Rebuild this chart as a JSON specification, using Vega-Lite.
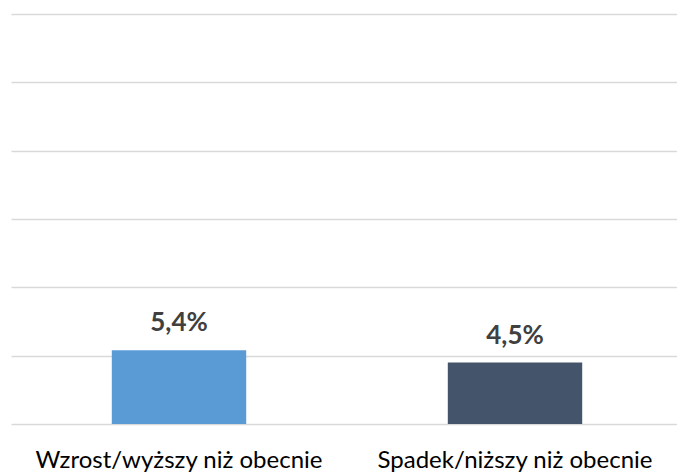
{
  "$schema": "https://vega.github.io/schema/vega-lite/v6.json",
  "width": 666,
  "height": 410,
  "autosize": {"type": "none"},
  "padding": {"left": 11, "top": 14, "right": 0, "bottom": 49},
  "background": "#ffffff",
  "config": {"view": {"stroke": null}},
  "data": {"values": [
    {"kategoria": "Wzrost/wyższy niż obecnie", "wartosc": 0.054, "etykieta": "5,4%"},
    {"kategoria": "Spadek/niższy niż obecnie", "wartosc": 0.045, "etykieta": "4,5%"}
  ]},
  "encoding": {
    "x": {
      "field": "kategoria", "type": "nominal", "sort": null,
      "scale": {"range": [0, 672], "paddingInner": 0.6, "paddingOuter": 0.3},
      "axis": {"title": null, "labelAngle": 0, "domain": false, "ticks": false,
               "labelFont": "Lato", "labelFontSize": 24, "labelColor": "#000000",
               "labelPadding": 24, "labelBaseline": "top", "labelLimit": 400}
    },
    "y": {
      "field": "wartosc", "type": "quantitative",
      "scale": {"domain": [0, 0.30], "nice": false},
      "axis": {"title": null, "labels": false, "ticks": false, "domain": false,
               "values": [0, 0.05, 0.10, 0.15, 0.20, 0.25, 0.30],
               "gridColor": "#D9D9D9", "gridWidth": 1.5}
    }
  },
  "layer": [
    {
      "mark": {"type": "bar"},
      "encoding": {
        "color": {"field": "kategoria", "type": "nominal", "sort": null,
                  "scale": {"range": ["#5B9BD5", "#44546A"]}, "legend": null}
      }
    },
    {
      "mark": {"type": "text", "baseline": "alphabetic", "dy": -19,
               "font": "Lato", "fontWeight": "bold", "fontSize": 26, "color": "#404040"},
      "encoding": {"text": {"field": "etykieta"}}
    }
  ]
}
